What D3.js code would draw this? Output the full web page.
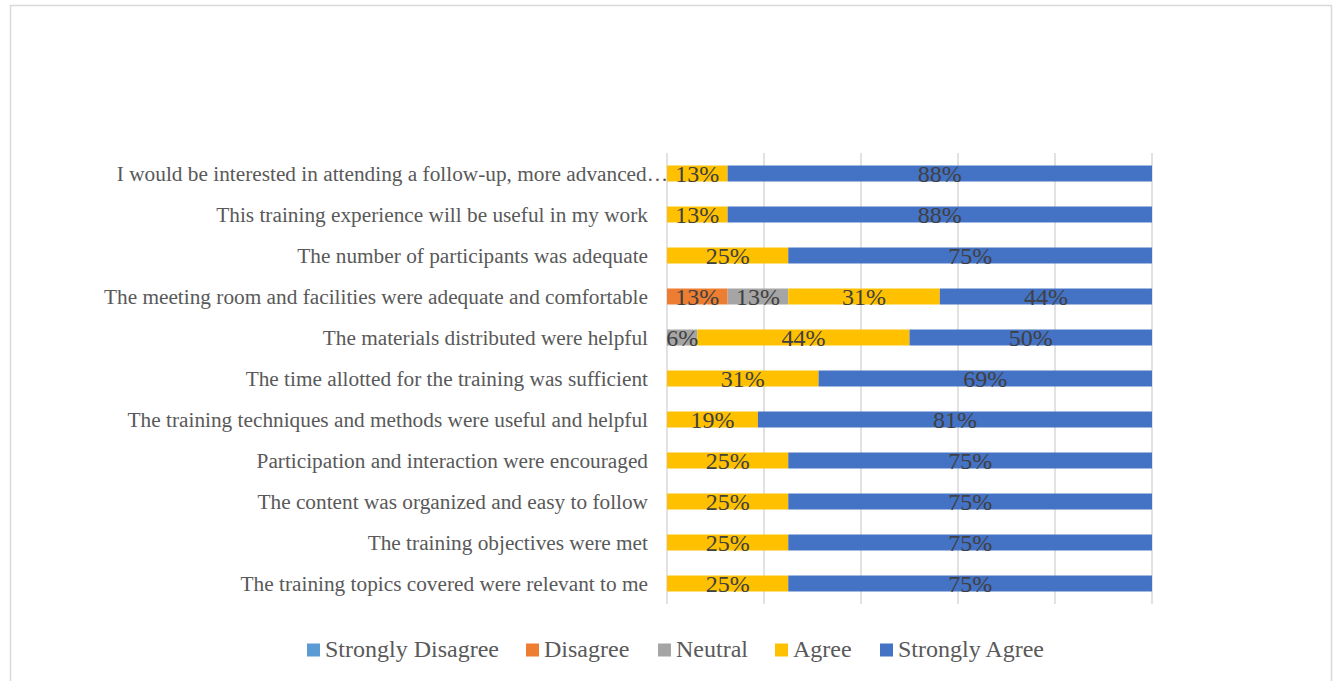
<!DOCTYPE html>
<html>
<head>
<meta charset="utf-8">
<script src="https://cdn.jsdelivr.net/npm/d3@7"></script>
<style>
  html, body { margin: 0; padding: 0; background: #fff; }
  svg { display: block; }
</style>
</head>
<body>
<svg id="chart" width="1334" height="681"></svg>
<script>
const categories = [
  "I would be interested in attending a follow-up, more advanced\u2026",
  "This training experience will be useful in my work",
  "The number of participants was adequate",
  "The meeting room and facilities were adequate and comfortable",
  "The materials distributed were helpful",
  "The time allotted for the training was sufficient",
  "The training techniques and methods were useful and helpful",
  "Participation and interaction were encouraged",
  "The content was organized and easy to follow",
  "The training objectives were met",
  "The training topics covered were relevant to me"
];
const seriesNames = ["Strongly Disagree", "Disagree", "Neutral", "Agree", "Strongly Agree"];
const stronglyDisagree = [0, 0, 0, 0, 0, 0, 0, 0, 0, 0, 0];
const disagree        = [0, 0, 0, 0.125, 0, 0, 0, 0, 0, 0, 0];
const neutral         = [0, 0, 0, 0.125, 0.0625, 0, 0, 0, 0, 0, 0];
const agree           = [0.125, 0.125, 0.25, 0.3125, 0.4375, 0.3125, 0.1875, 0.25, 0.25, 0.25, 0.25];
const stronglyAgree   = [0.875, 0.875, 0.75, 0.4375, 0.5, 0.6875, 0.8125, 0.75, 0.75, 0.75, 0.75];
const xTicks = [0, 0.2, 0.4, 0.6, 0.8, 1.0];

const colors = ["#5B9BD5", "#ED7D31", "#A5A5A5", "#FFC000", "#4472C4"];
const seriesValues = [stronglyDisagree, disagree, neutral, agree, stronglyAgree];

const rows = categories.map((c, i) => {
  const r = { category: c };
  seriesNames.forEach((s, k) => { r[s] = seriesValues[k][i]; });
  return r;
});
const stacked = d3.stack().keys(seriesNames)(rows);

const svg = d3.select("#chart");
const FONT = "'Liberation Serif', 'Times New Roman', serif";

// outer border
svg.append("rect")
  .attr("x", 10.5).attr("y", 5.5)
  .attr("width", 1321).attr("height", 690)
  .attr("fill", "#fff").attr("stroke", "#d9d9d9").attr("stroke-width", 1.5);

const plot = { left: 667, right: 1152, top: 153, bottom: 604 };

const x = d3.scaleLinear().domain([0, 1]).range([plot.left, plot.right]);
const y = d3.scaleBand().domain(categories).range([plot.top, plot.bottom]).paddingInner(0.61).paddingOuter(0.305);

// gridlines
svg.append("g").selectAll("line").data(xTicks).join("line")
  .attr("x1", d => x(d)).attr("x2", d => x(d))
  .attr("y1", plot.top).attr("y2", plot.bottom)
  .attr("stroke", "#d9d9d9").attr("stroke-width", 1.5);

// category axis labels
const yAxis = d3.axisLeft(y).tickSize(0).tickPadding(19);
const gy = svg.append("g").attr("transform", `translate(${plot.left},0)`).call(yAxis);
gy.select(".domain").remove();
gy.selectAll("text")
  .attr("font-family", FONT)
  .attr("font-size", 21.3)
  .attr("fill", "#595959")
  .attr("dy", "0.36em")
  .attr("dx", d => d.endsWith("\u2026") ? 20 : 0);

// bars
const groups = svg.append("g").selectAll("g").data(stacked).join("g")
  .attr("fill", (d, i) => colors[i]);
groups.selectAll("rect").data(d => d.filter(p => p[1] - p[0] > 0)).join("rect")
  .attr("x", d => x(d[0]))
  .attr("width", d => x(d[1]) - x(d[0]))
  .attr("y", d => y(d.data.category))
  .attr("height", y.bandwidth());

// data labels
const fmt = d3.format(".0%");
const labelG = svg.append("g");
stacked.forEach((s) => {
  s.filter(p => p[1] - p[0] > 0).forEach(p => {
    labelG.append("text")
      .attr("x", x((p[0] + p[1]) / 2))
      .attr("y", y(p.data.category) + y.bandwidth() / 2)
      .attr("dy", "0.36em")
      .attr("text-anchor", "middle")
      .attr("font-family", FONT)
      .attr("font-size", 24)
      .attr("fill", "#404040")
      .text(fmt(p[1] - p[0]));
  });
});

// legend
const legendX = [307, 526, 658, 775, 880];
const legend = svg.append("g");
seriesNames.forEach((s, i) => {
  const g = legend.append("g").attr("transform", `translate(${legendX[i]},650)`);
  g.append("rect").attr("x", 0).attr("y", -6.5).attr("width", 13).attr("height", 13).attr("fill", colors[i]);
  g.append("text").attr("x", 18).attr("y", 0).attr("dy", "0.3em")
    .attr("font-family", FONT)
    .attr("font-size", 24)
    .attr("fill", "#595959")
    .text(s);
});
</script>
</body>
</html>
